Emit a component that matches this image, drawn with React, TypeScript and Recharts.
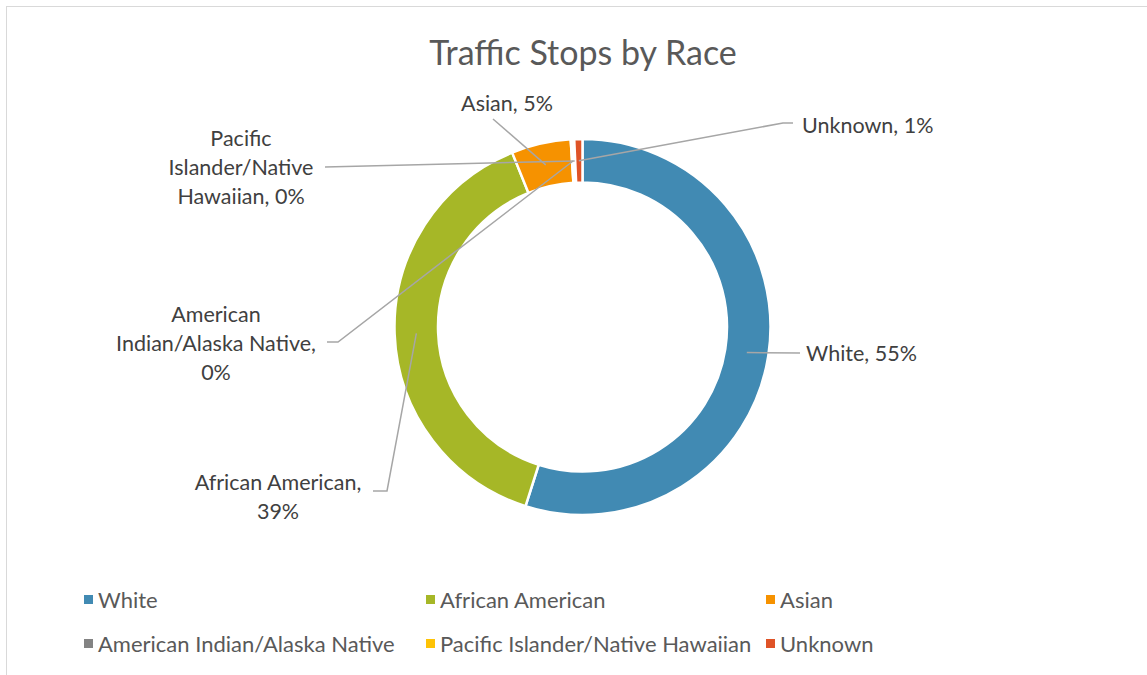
import React from 'react';
import { PieChart, Pie, Cell, Legend } from 'recharts';

const categories = ['White', 'African American', 'Asian', 'American Indian/Alaska Native', 'Pacific Islander/Native Hawaiian', 'Unknown'];
const shares = [54.9, 39.0, 5.1, 0.2, 0.1, 0.7];
const colors = ['#418AB3', '#A6B727', '#F69200', '#838383', '#FEC306', '#DF5327'];
const labelLines = [
  ['White, 55%'],
  ['African American,', '39%'],
  ['Asian, 5%'],
  ['American', 'Indian/Alaska Native,', '0%'],
  ['Pacific', 'Islander/Native', 'Hawaiian, 0%'],
  ['Unknown, 1%'],
];

// label placement offsets relative to the pie center (layout only)
const labelLayout = [
  { elbow: [217.5, 26], end: [217.5, 26], text: [223.5, 26], anchor: 'start' },
  { elbow: [-195.5, 164], end: [-209.5, 164], text: [-304.5, 155], anchor: 'middle' },
  { elbow: [-89.5, -208], end: [-89.5, -208], text: [-75.5, -224], anchor: 'middle' },
  { elbow: [-244.5, 15], end: [-255.5, 15], text: [-366.5, -13], anchor: 'middle' },
  { elbow: [-257.5, -160], end: [-257.5, -160], text: [-341.5, -189], anchor: 'middle' },
  { elbow: [200.5, -204], end: [210.5, -204], text: [219.5, -202], anchor: 'start' },
];

const data = categories.map((name, i) => ({ name, value: shares[i] }));

const FONT = 'Lato, "Open Sans", sans-serif';
const RAD = Math.PI / 180;

const renderLabel = (props: any) => {
  const { cx, cy, midAngle, innerRadius, outerRadius, index } = props;
  const lay = labelLayout[index];
  const r = (innerRadius + outerRadius) / 2;
  const sx = cx + r * Math.cos(-midAngle * RAD);
  const sy = cy + r * Math.sin(-midAngle * RAD);
  const pts = [
    [sx, sy],
    [cx + lay.elbow[0], cy + lay.elbow[1]],
    [cx + lay.end[0], cy + lay.end[1]],
  ];
  const lines = labelLines[index];
  const tx = cx + lay.text[0];
  const ty = cy + lay.text[1];
  return (
    <g key={`lbl-${index}`}>
      <polyline
        points={pts.map((p) => p.join(',')).join(' ')}
        fill="none"
        stroke="#A6A6A6"
        strokeWidth={1.5}
      />
      <text
        x={tx}
        y={ty}
        textAnchor={lay.anchor as any}
        dominantBaseline="central"
        fill="#404040"
        fontSize={21.5}
        fontFamily={FONT}
      >
        {lines.map((l, k) => (
          <tspan key={k} x={tx} dy={k === 0 ? 0 : 29}>
            {l}
          </tspan>
        ))}
      </text>
    </g>
  );
};

const renderLegend = () => {
  const colX = [84, 426, 766];
  return (
    <div style={{ position: 'relative', width: 1147, height: 90 }}>
      {categories.map((name, i) => {
        const col = i % 3;
        const row = Math.floor(i / 3);
        return (
          <div
            key={name}
            style={{
              position: 'absolute',
              left: colX[col],
              top: row * 44,
              height: 26,
              display: 'flex',
              alignItems: 'center',
              whiteSpace: 'nowrap',
              fontFamily: FONT,
              fontSize: 22,
              color: '#595959',
            }}
          >
            <span style={{ display: 'inline-block', width: 9, height: 9, background: colors[i], marginRight: 5 }} />
            <span>{name}</span>
          </div>
        );
      })}
    </div>
  );
};

export default function App() {
  return (
    <div style={{ position: 'absolute', left: 0, top: 0, width: 1147, height: 675, overflow: 'hidden', background: '#fff' }}>
      <div
        style={{
          position: 'absolute',
          left: 6,
          top: 6,
          width: 1200,
          height: 720,
          border: '1.5px solid #D9D9D9',
        }}
      />
      <div
        style={{
          position: 'absolute',
          left: 0,
          top: 29,
          width: 1166,
          textAlign: 'center',
          fontFamily: FONT,
          fontSize: 34,
          color: '#595959',
          lineHeight: '46px',
        }}
      >
        Traffic Stops by Race
      </div>
      <div style={{ position: 'absolute', left: 0, top: 0 }}>
        <PieChart width={1147} height={675} margin={{ top: 0, right: 0, bottom: 0, left: 0 }}>
          <Pie
            data={data}
            dataKey="value"
            nameKey="name"
            cx={582.5}
            cy={327}
            innerRadius={144.5}
            outerRadius={188}
            startAngle={90}
            endAngle={-270}
            stroke="#FFFFFF"
            strokeWidth={2.5}
            label={renderLabel}
            labelLine={false}
            isAnimationActive={false}
          >
            {data.map((d, i) => (
              <Cell key={d.name} fill={colors[i]} />
            ))}
          </Pie>
          <Legend
            content={renderLegend}
            wrapperStyle={{ position: 'absolute', left: 0, top: 586, width: 1147, height: 90 }}
          />
        </PieChart>
      </div>
    </div>
  );
}
